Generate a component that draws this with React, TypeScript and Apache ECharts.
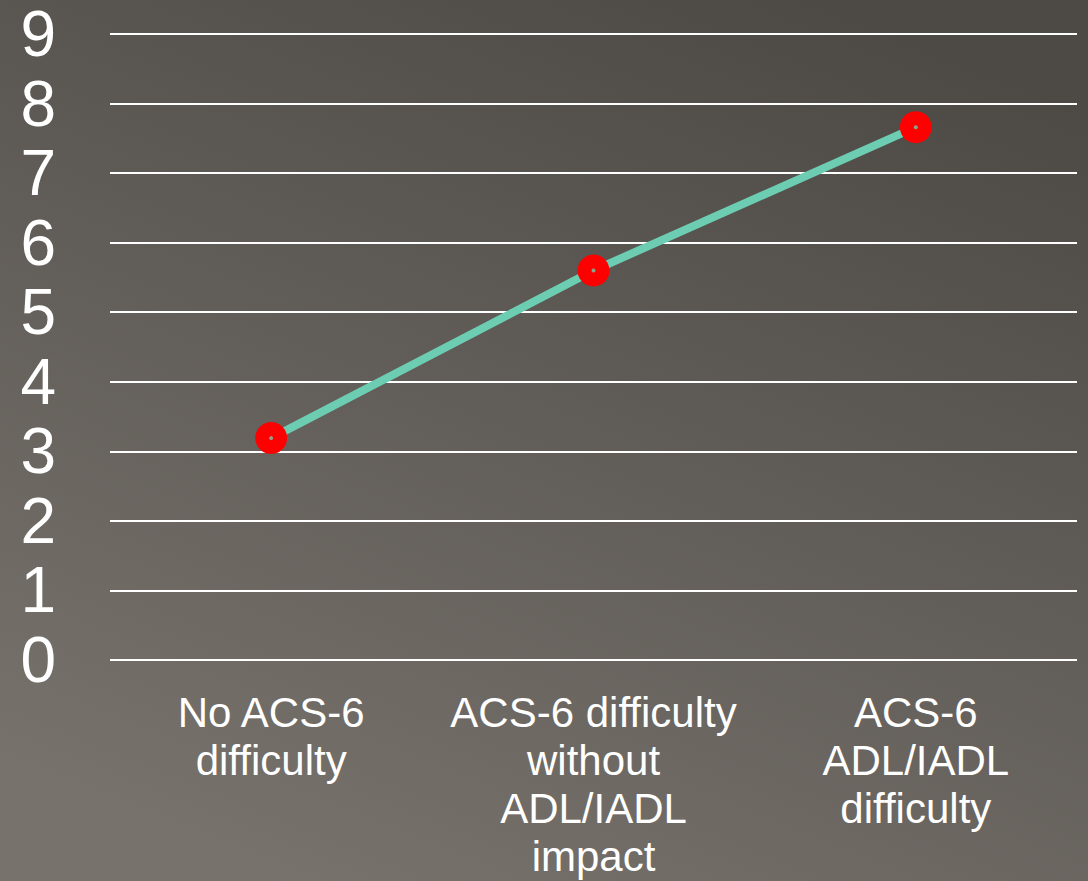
import React, { useEffect, useRef } from "react";
import * as echarts from "echarts";

const categories = [
  "No ACS-6\ndifficulty",
  "ACS-6 difficulty\nwithout\nADL/IADL\nimpact",
  "ACS-6\nADL/IADL\ndifficulty",
];
const values = [3.19, 5.6, 7.66];
const yTicks = [0, 1, 2, 3, 4, 5, 6, 7, 8, 9];

export default function App() {
  const ref = useRef<HTMLDivElement>(null);
  useEffect(() => {
    document.body.style.margin = "0";
    const chart = echarts.init(ref.current!, null, { renderer: "svg" });
    chart.setOption({
      animation: false,
      backgroundColor: new echarts.graphic.LinearGradient(0.75, 0, 0.25, 1, [
        { offset: 0, color: "#4d4945" },
        { offset: 1, color: "#77726c" },
      ]),
      grid: { left: 110, right: 11, top: 34, bottom: 221 },
      xAxis: {
        type: "category",
        data: categories,
        boundaryGap: true,
        axisLine: { show: false },
        axisTick: { show: false },
        axisLabel: {
          color: "#ffffff",
          fontFamily: "Liberation Sans, Arial, sans-serif",
          fontSize: 42,
          lineHeight: 48,
          margin: 28,
          interval: 0,
          align: "center",
        },
      },
      yAxis: {
        type: "value",
        min: yTicks[0],
        max: yTicks[yTicks.length - 1],
        interval: 1,
        axisLine: { show: false },
        axisTick: { show: false },
        axisLabel: {
          color: "#ffffff",
          fontFamily: "Liberation Sans, Arial, sans-serif",
          fontSize: 64,
          lineHeight: 56,
          margin: 54,
        },
        splitLine: { show: true, lineStyle: { color: "#ffffff", width: 2 } },
      },
      series: [
        {
          type: "line",
          data: values,
          symbol: "circle",
          symbolSize: 32,
          lineStyle: { color: "#6ccdb2", width: 8 },
          itemStyle: { color: "#ff0000", borderWidth: 0 },
          z: 2,
        },
        {
          type: "scatter",
          data: values,
          symbol: "circle",
          symbolSize: 4,
          itemStyle: { color: "#6ccdb2" },
          z: 3,
        },
      ],
    });
    return () => chart.dispose();
  }, []);
  return (
    <div
      ref={ref}
      style={{ position: "fixed", left: 0, top: 0, width: 1088, height: 881 }}
    />
  );
}
